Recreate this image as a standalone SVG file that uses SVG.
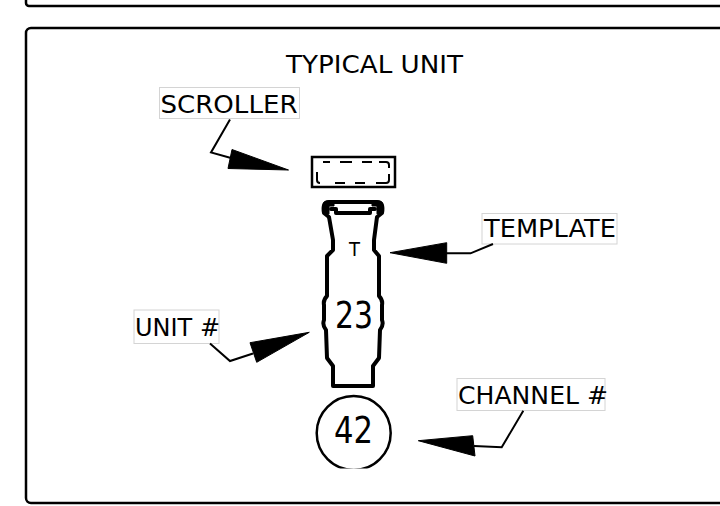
<svg xmlns="http://www.w3.org/2000/svg" width="720" height="506" viewBox="0 0 720 506">
  <style>
    .frame { fill: #ffffff; stroke: #000000; stroke-width: 2.5; }
    .lbl { fill: #ffffff; stroke: #d4d4d4; stroke-width: 1; }
    .txt { font-family: "DejaVu Sans", "Liberation Sans", sans-serif; fill: #000000; }
    .lead { fill: none; stroke: #000000; stroke-width: 2; stroke-linejoin: miter; }
    .head { fill: #000000; stroke: #000000; stroke-width: 1; stroke-linejoin: round; }
    .thick { fill: #ffffff; stroke: #000000; stroke-width: 4; stroke-linejoin: round; stroke-linecap: round; }
    .knob { fill: #000000; stroke: #000000; stroke-width: 1; stroke-linejoin: round; }
  </style>
  <defs>
    <clipPath id="circClip">
      <rect x="300" y="380" width="120" height="88.5"/>
    </clipPath>
  </defs>
  <rect width="720" height="506" fill="#ffffff"/>
  <rect id="top-frame" class="frame" x="26" y="-20" width="720" height="26" rx="3"/>
  <rect id="main-frame" class="frame" x="26" y="28" width="720" height="475" rx="5"/>

  <text id="title" class="txt" x="286" y="73" font-size="25" textLength="177" lengthAdjust="spacingAndGlyphs">TYPICAL UNIT</text>

  <g id="scroller">
    <rect x="312" y="157" width="83" height="30" fill="#ffffff" stroke="#000000" stroke-width="2.5"/>
    <path d="M 323,162 H 330 M 340,162 H 352 M 362,162 H 372 M 379,162 H 386 Q 389,162 389,165 V 168 M 389,174 V 180 Q 389,183 386,183 H 376 M 365,183 H 355 M 345,183 H 335 M 320,183 Q 317,183 317,180 V 172" fill="none" stroke="#000000" stroke-width="2"/>
  </g>

  <g id="template-unit">
    <path class="thick" d="M 329,217 L 333,240 L 333,250 L 327,256 L 327,296 Q 323,300 324,305 L 324,320 Q 322,325 326,330 L 327,358 L 333,366 L 333,386 L 373,386 L 373,366 L 379,358 L 380,330 Q 384,325 382,320 L 382,305 Q 383,300 379,296 L 379,256 L 374,250 L 374,240 L 377,217"/>
    <path class="thick" d="M 329,217 L 324,213 Q 322,202 329,202 L 377,202 Q 384,202 382,213 L 377,217"/>
    <path class="knob" d="M 323,212 L 323,205 Q 323,201 328,201 L 334,201 L 334,206 L 329,206 L 329,214 Z"/>
    <path class="knob" d="M 383,212 L 383,205 Q 383,201 378,201 L 372,201 L 372,206 L 377,206 L 377,214 Z"/>
    <path class="thick" d="M 331,209 L 336,209 L 336,213 L 370,213 L 370,209 L 375,209" fill="none"/>
    <text class="txt" x="349" y="256" font-size="19.5" textLength="11" lengthAdjust="spacingAndGlyphs">T</text>
    <text class="txt" x="335" y="327.5" font-size="37.5" textLength="38" lengthAdjust="spacingAndGlyphs">23</text>
  </g>

  <g id="channel">
    <circle cx="353.7" cy="433" r="37" fill="#ffffff" stroke="#000000" stroke-width="2.5" clip-path="url(#circClip)"/>
    <text class="txt" x="334" y="443" font-size="38" textLength="39" lengthAdjust="spacingAndGlyphs">42</text>
  </g>

  <g id="label-scroller">
    <rect class="lbl" x="159.5" y="87.5" width="140" height="31"/>
    <text class="txt" x="160.5" y="113.3" font-size="24" textLength="137" lengthAdjust="spacingAndGlyphs">SCROLLER</text>
  </g>
  <g id="label-template">
    <rect class="lbl" x="482" y="213.5" width="135" height="30.5"/>
    <text class="txt" x="484" y="237.3" font-size="25" textLength="132" lengthAdjust="spacingAndGlyphs">TEMPLATE</text>
  </g>
  <g id="label-unit">
    <rect class="lbl" x="134" y="310" width="85" height="33.5"/>
    <text class="txt" x="135" y="336" font-size="25" textLength="85" lengthAdjust="spacingAndGlyphs">UNIT #</text>
  </g>
  <g id="label-channel">
    <rect class="lbl" x="457" y="378.5" width="148" height="32"/>
    <text class="txt" x="458" y="404.3" font-size="25" textLength="150" lengthAdjust="spacingAndGlyphs">CHANNEL #</text>
  </g>

  <g id="connectors">
    <path class="lead" d="M 230,119.5 L 211,152.5 L 231,158"/>
    <polygon class="head" points="232,149.5 228,168.5 288.5,170"/>

    <path class="lead" d="M 493,244 L 470.5,253.3 L 446,253.3"/>
    <polygon class="head" points="446.7,242.7 446.7,263.3 390,252.7"/>

    <path class="lead" d="M 210,343.5 L 230,361 L 253,353.5"/>
    <polygon class="head" points="250,342.7 256.7,362.3 309.3,332.3"/>

    <path class="lead" d="M 523.3,410.7 L 501.7,447.3 L 474,446"/>
    <polygon class="head" points="472.7,435.7 475,456 418.3,440.7"/>
  </g>
</svg>
